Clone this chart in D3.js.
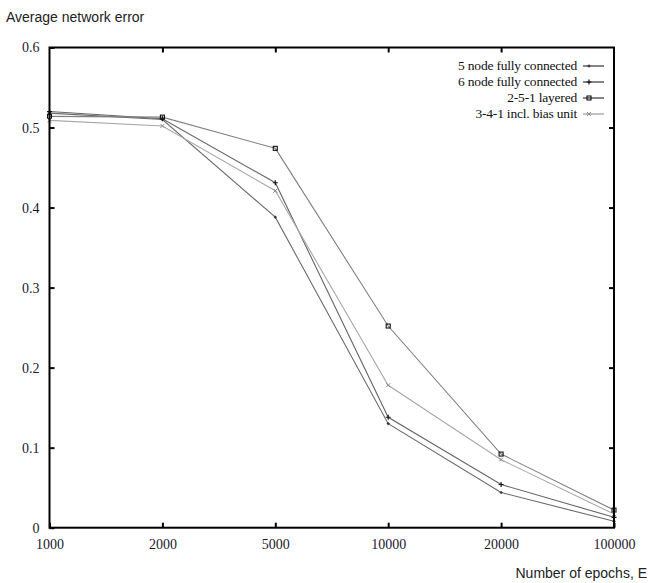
<!DOCTYPE html>
<html>
<head>
<meta charset="utf-8">
<script src="https://cdn.jsdelivr.net/npm/d3@7"></script>
<style>
  html, body { margin: 0; padding: 0; background: #fff; }
  svg { display: block; }
</style>
</head>
<body>
<svg id="chart" width="650" height="583"></svg>
<script>
// Epoch settings (categorical, evenly spaced on the axis)
const epochs = ['1000', '2000', '5000', '10000', '20000', '100000'];

// Average network error per configuration
const fiveNode  = [0.518, 0.510, 0.388, 0.130, 0.044, 0.008];
const sixNode   = [0.520, 0.511, 0.431, 0.138, 0.054, 0.013];
const layered   = [0.514, 0.513, 0.474, 0.252, 0.092, 0.022];
const biasUnit  = [0.509, 0.502, 0.421, 0.178, 0.085, 0.017];

const yTicks = [0, 0.1, 0.2, 0.3, 0.4, 0.5, 0.6];

const series = [
    { name: '5 node fully connected',  values: fiveNode, color: '#6a6a6a', marker: 'dot'   },
    { name: '6 node fully connected',  values: sixNode,  color: '#666',    marker: 'plus'  },
    { name: '2-5-1 layered',           values: layered,  color: '#808080', marker: 'square'},
    { name: '3-4-1 incl. bias unit',   values: biasUnit, color: '#a8a8a8', marker: 'cross' }
];

(function() {
const svg = d3.select('#chart');
const pL = 49.5, pR = 614, pT = 47.5, pB = 527.7;

const x = d3.scalePoint().domain(epochs).range([pL, pR]);
const y = d3.scaleLinear().domain([0, 0.6]).range([pB, pT]);

const serif = '"Liberation Serif", "Times New Roman", serif';
const sans  = '"Liberation Sans", Arial, sans-serif';

// Series lines
const line = d3.line()
    .x((d, i) => x(epochs[i]))
    .y(d => y(d));

svg.selectAll('path.series')
    .data(series)
    .join('path')
    .attr('class', 'series')
    .attr('fill', 'none')
    .attr('stroke', d => d.color)
    .attr('stroke-width', 1.1)
    .attr('d', d => line(d.values));

// Point markers
function drawMarker(sel, kind, cx, cy) {
    if (kind === 'square') {
        sel.append('rect')
            .attr('x', cx - 2).attr('y', cy - 2)
            .attr('width', 4).attr('height', 4)
            .attr('fill', 'none').attr('stroke', '#111').attr('stroke-width', 1.1);
    } else if (kind === 'plus') {
        sel.append('path')
            .attr('d', `M${cx - 2.5},${cy}H${cx + 2.5}M${cx},${cy - 2.5}V${cy + 2.5}`)
            .attr('stroke', '#111').attr('stroke-width', 1.2);
    } else if (kind === 'dot') {
        sel.append('path')
            .attr('d', `M${cx - 1.5},${cy}H${cx + 1.5}M${cx},${cy - 1.5}V${cy + 1.5}`)
            .attr('stroke', '#333').attr('stroke-width', 1.2);
    } else {
        sel.append('path')
            .attr('d', `M${cx - 2},${cy - 2}L${cx + 2},${cy + 2}M${cx - 2},${cy + 2}L${cx + 2},${cy - 2}`)
            .attr('stroke', '#888').attr('stroke-width', 1);
    }
}

const markers = svg.append('g');
series.forEach(s => {
    s.values.forEach((v, i) => drawMarker(markers, s.marker, x(epochs[i]), y(v)));
});

// Frame
svg.append('rect')
    .attr('x', pL).attr('y', pT)
    .attr('width', pR - pL).attr('height', pB - pT)
    .attr('fill', 'none').attr('stroke', '#000').attr('stroke-width', 2);

// Y axis (ticks inward, mirrored on right)
const yAxisL = d3.axisLeft(y).tickValues(yTicks).tickSize(-5).tickPadding(10)
    .tickFormat(d => d === 0 ? '0' : d3.format('.1f')(d));
const gy = svg.append('g').attr('transform', `translate(${pL},0)`).call(yAxisL);
const yAxisR = d3.axisRight(y).tickValues(yTicks.slice(1, -1)).tickSize(-5).tickFormat('');
const gyr = svg.append('g').attr('transform', `translate(${pR},0)`).call(yAxisR);

// X axis (ticks inward, mirrored on top)
const xAxisB = d3.axisBottom(x).tickSize(-5).tickPadding(11);
const gx = svg.append('g').attr('transform', `translate(0,${pB})`).call(xAxisB);
const xAxisT = d3.axisTop(x).tickValues(epochs.slice(1, -1)).tickSize(-5).tickFormat('');
const gxt = svg.append('g').attr('transform', `translate(0,${pT})`).call(xAxisT);

[gy, gyr, gx, gxt].forEach(g => {
    g.select('.domain').remove();
    g.selectAll('.tick line').attr('stroke', '#000').attr('stroke-width', 2);
    g.selectAll('text')
        .style('font-family', serif)
        .style('font-size', '14px')
        .attr('fill', '#1a1a2e');
});

// Axis titles
svg.append('text')
    .attr('x', 6).attr('y', 22)
    .style('font-family', sans).style('font-size', '14px')
    .attr('fill', '#222')
    .text('Average network error');

svg.append('text')
    .attr('x', 647).attr('y', 578)
    .attr('text-anchor', 'end')
    .style('font-family', sans).style('font-size', '14px')
    .attr('fill', '#222')
    .text('Number of epochs, E');

// Legend
const legend = svg.append('g');
series.forEach((s, i) => {
    const ly = 65 + i * 16;
    legend.append('text')
        .attr('x', 577).attr('y', ly)
        .attr('dy', '0.35em')
        .attr('text-anchor', 'end')
        .style('font-family', serif).style('font-size', '13.5px')
        .style('letter-spacing', '-0.2px')
        .attr('fill', '#111')
        .text(s.name);
    legend.append('line')
        .attr('x1', 583).attr('x2', 604)
        .attr('y1', ly + 1).attr('y2', ly + 1)
        .attr('stroke', i < 3 ? '#333' : '#999').attr('stroke-width', 1.2);
    drawMarker(legend, s.marker, 589, ly + 1);
});
})();
</script>
</body>
</html>
